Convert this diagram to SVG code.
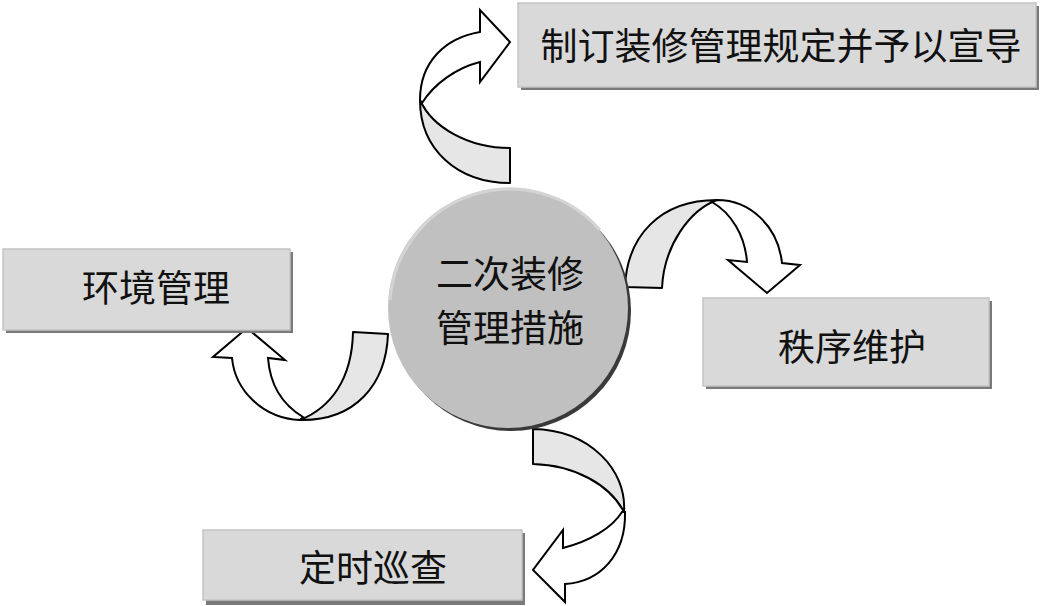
<svg xmlns="http://www.w3.org/2000/svg" width="1042" height="606" viewBox="0 0 1042 606">
<style>
.box{fill:#d9d9d9;stroke:#c4c4c4;stroke-width:1.5}
.shadow{fill:#7a7a7a}
.lbl{font-family:"Noto Sans CJK SC","Noto Sans CJK JP",sans-serif;font-size:37px;fill:#111;text-anchor:middle}
.back{fill:#e6e6e6;stroke:#000;stroke-width:2;stroke-linejoin:round}
.front{fill:#fff;stroke:#000;stroke-width:2;stroke-linejoin:miter}
</style>
<rect width="1042" height="606" fill="#fff"/>
<g id="connectors">
  <g id="arrow-top">
    <path class="back" d="M510,148 L510,183 C458,183 420,150 420,100 C432,127 468,148 510,148 Z"/>
    <path class="front" d="M420,100 C420,62 445,38 480,32 L480,10 L510,42 L480,82 L480,62 C456,68 434,84 422,103 Z"/>
  </g>
  <g id="arrow-right">
    <path class="back" d="M625,287 C627,236 660,200 717,200 C690,210 664,245 662,288 Z"/>
    <path class="front" d="M717,200 C750,200 778,226 782,263 L800,265 L767,293 L728,260 L747,262 C745,235 731,213 712,202 Z"/>
  </g>
  <g id="arrow-left">
    <path class="back" d="M353,332 L388,334 C386,385 355,421 300,420 C330,408 352,380 353,332 Z"/>
    <path class="front" d="M300,420 C262,418 235,390 232,358 L213,357 L247,328 L285,360 L268,358 C270,385 283,405 303,417 Z"/>
  </g>
  <g id="arrow-bottom">
    <path class="back" d="M533,429 L533,464 C575,465 610,485 624,512 C627,470 590,430 533,429 Z"/>
    <path class="front" d="M625,512 C626,555 600,582 565,584 L565,602 L533,570 L563,530 L563,548 C590,541 612,528 622,512 Z"/>
  </g>
</g>
<g id="center">
  <circle cx="511" cy="311" r="120" fill="#3a3a3a"/>
  <circle cx="508" cy="308" r="120" fill="#c0c0c0"/>
  <path d="M390,300 A120,120 0 0 1 600,230" fill="none" stroke="#d4d4d4" stroke-width="3"/>
  <text class="lbl" x="510" y="288">二次装修</text>
  <text class="lbl" x="510" y="342">管理措施</text>
</g>
<g id="node-top">
  <rect class="shadow" x="521" y="6" width="518" height="84"/>
  <rect class="box" x="518" y="3" width="518" height="84"/>
  <text class="lbl" x="781" y="60">制订装修管理规定并予以宣导</text>
</g>
<g id="node-left">
  <rect class="shadow" x="6" y="252" width="287" height="81"/>
  <rect class="box" x="3" y="249" width="287" height="81"/>
  <text class="lbl" x="156" y="302">环境管理</text>
</g>
<g id="node-right">
  <rect class="shadow" x="706" y="301" width="286" height="88"/>
  <rect class="box" x="703" y="298" width="286" height="88"/>
  <text class="lbl" x="852" y="361">秩序维护</text>
</g>
<g id="node-bottom">
  <rect class="shadow" x="206" y="533" width="319" height="72"/>
  <rect class="box" x="203" y="530" width="319" height="70"/>
  <text class="lbl" x="373" y="582">定时巡查</text>
</g>
</svg>
